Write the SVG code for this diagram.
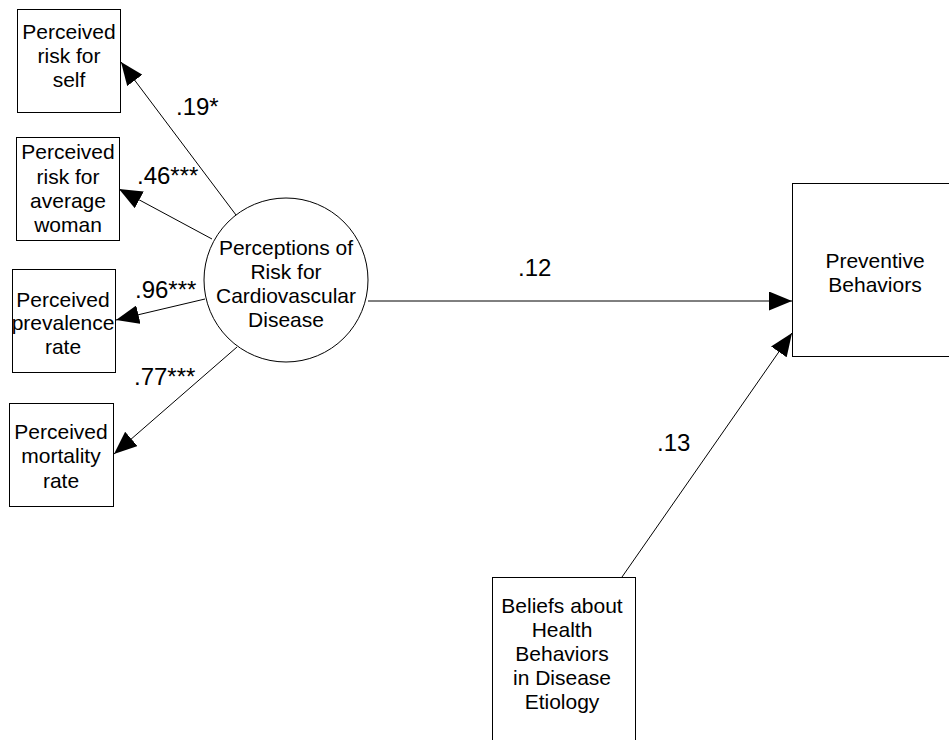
<svg xmlns="http://www.w3.org/2000/svg" width="949" height="740" viewBox="0 0 949 740">
<style>
.box{fill:#fff;stroke:#000;stroke-width:1}
.t{font-family:"Liberation Sans",Arial,sans-serif;font-size:21px;fill:#000;text-anchor:middle}
.lbl{font-family:"Liberation Sans",Arial,sans-serif;font-size:24px;fill:#000}
.c{stroke:#000;stroke-width:1;fill:none;marker-end:url(#ah)}
</style>
<defs>
<marker id="ah" markerUnits="userSpaceOnUse" viewBox="0 0 23 19" refX="23" refY="9.5" markerWidth="23" markerHeight="19" orient="auto">
<path d="M0,0 L23,9.5 L0,19 z" fill="#000"/>
</marker>
</defs>
<rect width="949" height="740" fill="#fff"/>
<g id="connectors">
<line class="c" x1="236" y1="215" x2="121" y2="62"/>
<line class="c" x1="212" y1="239" x2="119" y2="189"/>
<line class="c" x1="205" y1="299" x2="116" y2="320"/>
<line class="c" x1="237" y1="347" x2="114" y2="454"/>
<line class="c" x1="368" y1="301" x2="792" y2="301"/>
<line class="c" x1="622" y1="577" x2="792" y2="333"/>
<text class="lbl" x="176" y="115">.19*</text>
<text class="lbl" x="137" y="184">.46***</text>
<text class="lbl" x="135" y="298">.96***</text>
<text class="lbl" x="134" y="385">.77***</text>
<text class="lbl" x="518" y="276">.12</text>
<text class="lbl" x="657" y="451">.13</text>
</g>
<g id="self">
<rect class="box" x="17.5" y="9.5" width="103" height="103"/>
<text class="t" x="69" y="39">Perceived</text>
<text class="t" x="69" y="63">risk for</text>
<text class="t" x="69" y="87">self</text>
</g>
<g id="average">
<rect class="box" x="16.5" y="137.5" width="103" height="103"/>
<text class="t" x="68" y="159">Perceived</text>
<text class="t" x="68" y="184">risk for</text>
<text class="t" x="68" y="208">average</text>
<text class="t" x="68" y="232">woman</text>
</g>
<g id="prevalence">
<rect class="box" x="12.5" y="269.5" width="103" height="103"/>
<text class="t" x="63" y="307">Perceived</text>
<text class="t" x="63" y="330">prevalence</text>
<text class="t" x="63" y="354">rate</text>
</g>
<g id="mortality">
<rect class="box" x="9.5" y="403.5" width="104" height="103"/>
<text class="t" x="61" y="439">Perceived</text>
<text class="t" x="61" y="463">mortality</text>
<text class="t" x="61" y="488">rate</text>
</g>
<g id="perceptions">
<circle class="box" cx="286" cy="280" r="82"/>
<text class="t" x="286" y="255">Perceptions of</text>
<text class="t" x="286" y="279">Risk for</text>
<text class="t" x="286" y="303">Cardiovascular</text>
<text class="t" x="286" y="327">Disease</text>
</g>
<g id="preventive">
<rect class="box" x="792.5" y="183.5" width="165" height="173"/>
<text class="t" x="875" y="268">Preventive</text>
<text class="t" x="875" y="292">Behaviors</text>
</g>
<g id="beliefs">
<rect class="box" x="492.5" y="577.5" width="143" height="180"/>
<text class="t" x="562" y="613">Beliefs about</text>
<text class="t" x="562" y="637">Health</text>
<text class="t" x="562" y="661">Behaviors</text>
<text class="t" x="562" y="685">in Disease</text>
<text class="t" x="562" y="709">Etiology</text>
</g>
</svg>
